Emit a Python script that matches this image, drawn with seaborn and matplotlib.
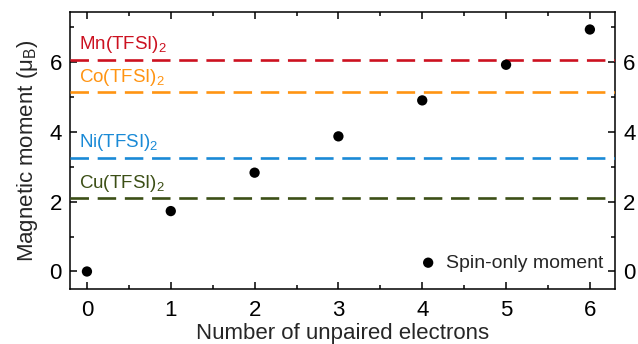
import matplotlib
matplotlib.use("Agg")
import matplotlib.pyplot as plt
import seaborn as sns
import pandas as pd
from matplotlib.ticker import MultipleLocator

# Data
unpaired = [0, 1, 2, 3, 4, 5, 6]
spin_only = [0.0, 1.73, 2.83, 3.87, 4.90, 5.92, 6.93]
compounds = ["Mn", "Co", "Ni", "Cu"]
measured = [6.06, 5.13, 3.26, 2.10]
colors = ["#cc1120", "#ff9412", "#1a8ad6", "#3c4f16"]

sns.set_theme(style="ticks")
plt.rcParams["font.family"] = ["Liberation Sans", "DejaVu Sans"]
plt.rcParams["mathtext.fontset"] = "custom"
plt.rcParams["mathtext.rm"] = "Liberation Sans"
plt.rcParams["mathtext.it"] = "Liberation Sans"

fig = plt.figure(figsize=(6.38, 3.44), dpi=100)
ax = fig.add_axes([0.110, 0.160, 0.854, 0.805])

df = pd.DataFrame({"n": unpaired, "mu": spin_only})
sns.scatterplot(data=df, x="n", y="mu", ax=ax, color="black", s=55,
                edgecolor="none", label="Spin-only moment", zorder=5)

for name, val, c in zip(compounds, measured, colors):
    ax.axhline(val, color=c, lw=1.9, dashes=(7, 3.3), zorder=3)
    ax.text(-0.09, val + 0.30, f"{name}(TFSI)$_2$", color=c, fontsize=13.5,
            va="baseline", ha="left")

ax.set_xlim(-0.2, 6.3)
ax.set_ylim(-0.5, 7.43)
ax.xaxis.set_major_locator(MultipleLocator(1))
ax.xaxis.set_minor_locator(MultipleLocator(0.5))
ax.yaxis.set_major_locator(MultipleLocator(2))
ax.yaxis.set_minor_locator(MultipleLocator(1))
ax.tick_params(which="both", direction="in", top=True, right=True,
               labelright=True, width=1.1, color="black", labelsize=16,
               labelcolor="black")
ax.tick_params(which="major", length=5)
ax.tick_params(which="minor", length=3)
ax.tick_params(axis="x", which="major", pad=8)
ax.tick_params(axis="y", which="major", pad=6)
for s in ax.spines.values():
    s.set_linewidth(1.1)
    s.set_color("black")

ax.set_xlabel("Number of unpaired electrons", fontsize=16, labelpad=1.5)
ax.set_ylabel("Magnetic moment (μ$_\\mathrm{B}$)", fontsize=16, labelpad=7)

leg = ax.legend(loc="lower right", bbox_to_anchor=(0.978, 0.062),
                frameon=False, fontsize=14, borderpad=0, borderaxespad=0,
                handlelength=1.2, handletextpad=0.3)

fig.savefig("out.png", dpi=100)
